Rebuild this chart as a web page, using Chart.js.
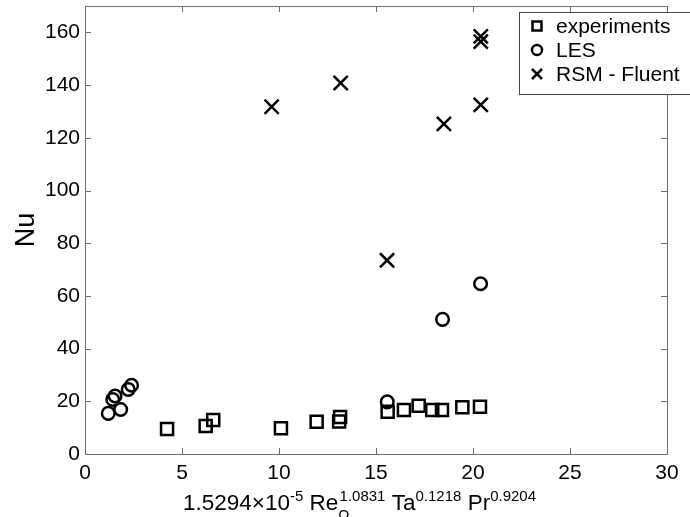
<!DOCTYPE html>
<html>
<head>
<meta charset="utf-8">
<script src="https://cdn.jsdelivr.net/npm/chart.js@4/dist/chart.umd.min.js"></script>
<style>
  body { margin: 0; background: #fff; }
  #wrap { position: relative; width: 690px; height: 517px; }
  #xtitle {
    position: absolute; left: 183px; top: 488px;
    font-family: "Liberation Sans", Arial, sans-serif; font-size: 22.5px; color: #000;
    white-space: nowrap; line-height: 1;
  }
  #xtitle sup { font-size: 15px; vertical-align: 9px; }
  #xtitle sub { font-size: 15px; vertical-align: -10px; }
</style>
</head>
<body>
<div id="wrap">
  <canvas id="chart" width="690" height="517"></canvas>
  <div id="xtitle">1.5294×10<sup>-5</sup> Re<sub>Ω</sub><sup style="margin-left:-10px">1.0831</sup> Ta<sup>0.1218</sup> Pr<sup>0.9204</sup></div>
</div>
<script>
// values
const expX = [4.23, 6.22, 6.61, 10.1, 11.94, 13.1, 13.15, 15.6, 16.44, 17.2, 17.9, 18.4, 19.45, 20.36];
const expY = [9.5, 10.6, 12.9, 9.8, 12.2, 12.3, 14.0, 16.0, 16.7, 18.3, 16.7, 16.7, 17.7, 17.9];

const lesX = [1.2, 1.43, 1.55, 1.84, 2.23, 2.4, 15.58, 18.43, 20.39];
const lesY = [15.4, 20.7, 22.0, 16.9, 24.5, 26.1, 19.8, 51.1, 64.6];

const rsmX = [9.62, 13.18, 15.57, 18.5, 20.4, 20.4, 20.4];
const rsmY = [131.8, 140.8, 73.5, 125.3, 132.5, 156.5, 158.5];

const seriesNames = ['experiments', 'LES', 'RSM - Fluent'];

const toPoints = (xs, ys) => xs.map((x, i) => ({ x: x, y: ys[i] }));

// box round the plot with ticks pointing inward (matlab style)
const boxPlugin = {
    id: 'box',
    afterDraw(chart) {
        const { ctx, chartArea: a, scales } = chart;
        ctx.save();
        ctx.strokeStyle = '#6e6e6e';
        ctx.lineWidth = 1;
        ctx.strokeRect(a.left + 0.5, a.top + 0.5, a.right - a.left, a.bottom - a.top);
        ctx.beginPath();
        scales.x.ticks.forEach(t => {
            const px = Math.round(scales.x.getPixelForValue(t.value)) + 0.5;
            ctx.moveTo(px, a.bottom); ctx.lineTo(px, a.bottom - 6);
            ctx.moveTo(px, a.top); ctx.lineTo(px, a.top + 6);
        });
        scales.y.ticks.forEach(t => {
            const py = Math.round(scales.y.getPixelForValue(t.value)) + 0.5;
            ctx.moveTo(a.left, py); ctx.lineTo(a.left + 6, py);
            ctx.moveTo(a.right, py); ctx.lineTo(a.right - 6, py);
        });
        ctx.stroke();

        // legend
        const lx = 519, ly = 12, lw = 180, lh = 82;
        ctx.fillStyle = '#fff';
        ctx.fillRect(lx, ly, lw, lh);
        ctx.strokeStyle = '#444';
        ctx.strokeRect(lx + 0.5, ly + 0.5, lw, lh);
        ctx.fillStyle = '#000';
        ctx.font = '21px "Liberation Sans", Arial, sans-serif';
        ctx.textBaseline = 'middle';
        ctx.lineWidth = 2.5;
        ctx.strokeStyle = '#000';
        seriesNames.forEach((name, i) => {
            const cy = ly + 14 + i * 24;
            const cx = 537;
            ctx.beginPath();
            if (i === 0) ctx.rect(cx - 4.5, cy - 4.5, 9, 9);
            else if (i === 1) ctx.arc(cx, cy, 5, 0, Math.PI * 2);
            else { ctx.moveTo(cx - 5, cy - 5); ctx.lineTo(cx + 5, cy + 5); ctx.moveTo(cx + 5, cy - 5); ctx.lineTo(cx - 5, cy + 5); }
            ctx.stroke();
            ctx.fillText(name, 556, cy + 1);
        });
        ctx.restore();
    }
};

const tickFont = { family: '"Liberation Sans", Arial, sans-serif', size: 21 };

new Chart(document.getElementById('chart'), {
    type: 'scatter',
    data: {
        datasets: [
            {
                label: seriesNames[0],
                data: toPoints(expX, expY),
                pointStyle: 'rect',
                pointRadius: 8.5,
                borderColor: '#000',
                backgroundColor: 'transparent',
                borderWidth: 2.5,
            },
            {
                label: seriesNames[1],
                data: toPoints(lesX, lesY),
                pointStyle: 'circle',
                pointRadius: 6.3,
                borderColor: '#000',
                backgroundColor: 'transparent',
                borderWidth: 2.5,
            },
            {
                label: seriesNames[2],
                data: toPoints(rsmX, rsmY),
                pointStyle: 'crossRot',
                pointRadius: 10,
                borderColor: '#000',
                backgroundColor: 'transparent',
                borderWidth: 2.5,
            },
        ],
    },
    options: {
        responsive: false,
        animation: false,
        events: [],
        layout: { autoPadding: false, padding: { top: 5, right: 23, left: 0, bottom: 0 } },
        plugins: { legend: { display: false }, tooltip: { enabled: false } },
        scales: {
            x: {
                type: 'linear',
                min: 0, max: 30,
                grid: { display: false, drawTicks: false },
                border: { display: false },
                ticks: { stepSize: 5, color: '#000', font: tickFont, padding: 7, maxRotation: 0 },
                afterFit(scale) { scale.height = 63; },
            },
            y: {
                type: 'linear',
                min: 0, max: 170,
                grid: { display: false, drawTicks: false },
                border: { display: false },
                ticks: { stepSize: 20, includeBounds: false, color: '#000', font: Object.assign({ lineHeight: 0.1 }, tickFont), padding: 5 },
                title: {
                    display: true, text: 'Nu', color: '#000',
                    font: { family: '"Liberation Sans", Arial, sans-serif', size: 27 },
                    padding: { top: 10, bottom: 0 },
                },
                afterFit(scale) { scale.width = 85; },
            },
        },
    },
    plugins: [boxPlugin],
});
</script>
</body>
</html>
